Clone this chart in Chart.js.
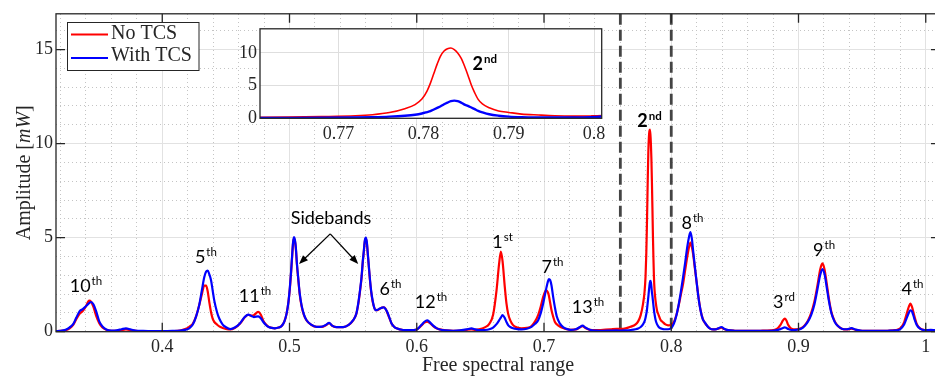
<!DOCTYPE html>
<html>
<head>
<meta charset="utf-8">
<script src="https://cdn.jsdelivr.net/npm/chart.js@4.4.1/dist/chart.umd.min.js"></script>
<style>
  html, body { margin: 0; padding: 0; background: #fff; overflow: hidden; width: 935px; height: 378px; }
  #wrap { position: relative; width: 935px; height: 378px; overflow: hidden; }
  #main { position: absolute; left: 0; top: 0; }
  #inset { position: absolute; left: 220px; top: 15px; }
</style>
</head>
<body>
<div id="wrap">
  <canvas id="main" width="945" height="378"></canvas>
  <canvas id="inset" width="400" height="130"></canvas>
</div>
<script>
// Spectrum sampled along the free spectral range (amplitude in mW)
const freq = [
  0.3165,0.320,0.324,0.327,0.330,0.3325,0.335,0.3375,0.340,0.3425,0.344,0.346,0.348,0.3505,0.353,0.356,0.360,
  0.364,0.368,0.3715,0.375,0.379,0.385,0.392,0.400,0.408,0.414,0.418,0.4212,0.424,0.4265,0.429,0.431,0.433,0.4345,0.4357,0.437,0.4383,0.4396,0.4409,0.443,0.4448,0.4475,0.450,0.4535,
  0.457,0.461,0.465,0.4676,0.470,0.472,0.4754,0.4775,0.4793,0.4815,0.4833,0.486,0.4885,0.4915,0.4938,0.496,0.4977,0.4992,0.5003,0.5013,0.5021,0.5028,0.5035,0.5042,0.505,0.5058,0.5068,0.508,0.5095,0.5113,0.5134,0.517,0.5213,
  0.5255,0.5285,0.5312,0.5335,0.537,0.5422,0.5465,0.55,0.5525,0.554,0.5555,0.5566,0.5576,0.5584,0.5592,0.56,0.5608,0.5616,0.5624,0.5632,0.5642,0.5653,0.5665,0.5676,0.569,0.571,0.5728,0.5742,0.5755,0.5768,0.5785,0.5802,0.582,0.5841,0.5893,
  0.595,0.6,0.602,0.604,0.606,0.6082,0.61,0.6129,0.6155,0.6181,0.623,0.6286,0.634,0.6391,0.643,0.646,0.649,0.6535,0.657,0.66,0.6627,0.6647,0.6661,0.6674,0.6692,0.6705,0.6718,0.6735,0.6757,0.679,0.6823,
  0.6865,0.6902,0.693,0.6954,0.6975,0.6993,0.701,0.702,0.703,0.7038,0.7048,0.7059,0.7072,0.7085,0.71,0.7124,0.715,0.7177,0.721,0.725,0.728,0.7303,0.7325,0.736,0.741,0.7464,0.752,0.757,
  0.7608,0.7641,0.768,0.772,0.774,0.776,0.7778,0.779,0.7798,0.7804,0.7808,0.7812,0.7816,0.782,0.7824,0.7828,0.7832,0.7836,0.784,0.7844,0.7848,0.7852,0.7856,0.786,0.7864,0.7869,0.7877,0.7888,0.79,0.7915,0.7935,0.7954,0.7975,0.7996,
  0.802,0.8041,0.806,0.8075,0.8093,0.811,0.8125,0.814,0.8151,0.8162,0.8172,0.8185,0.8198,0.8214,0.823,0.8247,0.8263,0.8283,0.8302,0.833,0.8355,0.8375,0.8394,0.8415,0.8446,
  0.85,0.86,0.87,0.878,0.883,0.886,0.8878,0.8892,0.8905,0.892,0.8945,0.898,0.902,0.905,0.9075,0.91,0.9125,0.915,0.917,0.9188,0.9205,0.9222,0.924,0.926,0.9285,0.931,0.934,0.938,0.9416,0.945,
  0.95,0.96,0.97,0.976,0.98,0.983,0.985,0.9868,0.9879,0.9892,0.991,0.993,0.9955,0.999,1.004,1.0112
];
const noTcs = [
  0.03,0.04,0.08,0.17,0.36,0.68,0.95,1.1,1.35,1.65,1.6,1.3,0.85,0.45,0.22,0.1,0.05,
  0.05,0.09,0.12,0.09,0.05,0.03,0.02,0.02,0.03,0.06,0.14,0.26,0.42,0.8,1.4,1.95,2.45,2.45,2.15,1.56,1.05,0.7,0.52,0.38,0.28,0.2,0.15,0.12,
  0.2,0.42,0.78,0.9,0.85,0.88,1.05,0.9,0.6,0.38,0.27,0.2,0.18,0.22,0.3,0.55,0.95,1.6,2.3,3.2,4.0,4.7,4.95,4.85,4.4,3.6,2.85,2.0,1.35,0.9,0.6,0.37,0.26,
  0.26,0.34,0.45,0.32,0.24,0.24,0.36,0.6,0.95,1.45,2.2,2.85,3.7,4.25,4.8,4.95,4.7,4.05,3.4,2.75,2.1,1.62,1.3,1.15,1.15,1.22,1.28,1.3,1.22,1.02,0.72,0.44,0.28,0.18,0.09,
  0.08,0.12,0.22,0.35,0.48,0.54,0.47,0.3,0.18,0.12,0.07,0.05,0.06,0.1,0.12,0.1,0.12,0.23,0.42,0.9,2.2,3.6,4.26,3.77,2.37,1.5,0.96,0.6,0.35,0.22,0.18,
  0.2,0.3,0.55,0.88,1.35,1.84,2.15,2.2,2.1,1.93,1.55,1.14,0.8,0.53,0.4,0.28,0.2,0.14,0.1,0.12,0.22,0.3,0.2,0.1,0.08,0.1,0.12,0.15,
  0.15,0.18,0.26,0.39,0.55,0.88,1.47,2.1,2.94,4.17,5.39,6.86,8.33,9.56,10.3,10.65,10.75,10.5,10.0,9.2,8.0,6.6,5.1,3.9,2.9,2.2,1.62,1.13,0.9,0.64,0.5,0.39,0.34,0.36,
  0.5,0.9,1.45,1.95,2.55,3.3,3.95,4.5,4.74,4.5,4.12,3.4,2.72,1.85,1.15,0.7,0.48,0.3,0.18,0.12,0.14,0.18,0.21,0.14,0.08,
  0.05,0.04,0.05,0.07,0.15,0.38,0.6,0.7,0.6,0.35,0.16,0.12,0.18,0.35,0.6,1.0,1.6,2.5,3.3,3.63,3.3,2.55,1.7,1.0,0.55,0.3,0.16,0.12,0.16,0.1,
  0.05,0.04,0.05,0.08,0.18,0.5,0.95,1.35,1.49,1.32,0.85,0.4,0.18,0.09,0.06,0.05
];
const withTcs = [
  0.03,0.04,0.1,0.22,0.4,0.75,1.08,1.2,1.35,1.52,1.58,1.45,1.1,0.55,0.28,0.12,0.06,
  0.07,0.13,0.18,0.12,0.06,0.04,0.03,0.03,0.04,0.06,0.1,0.18,0.38,0.79,1.4,2.15,2.9,3.2,3.25,3.05,2.75,2.2,1.65,1.05,0.7,0.38,0.24,0.14,
  0.22,0.44,0.79,0.91,0.84,0.78,0.82,0.72,0.53,0.36,0.26,0.2,0.18,0.22,0.3,0.55,0.96,1.6,2.37,3.25,4.1,4.75,5.03,4.9,4.47,3.65,2.9,2.05,1.4,0.92,0.61,0.38,0.26,
  0.27,0.36,0.47,0.32,0.24,0.24,0.36,0.61,0.95,1.5,2.25,2.9,3.75,4.3,4.85,5.0,4.75,4.1,3.45,2.8,2.15,1.67,1.3,1.14,1.16,1.23,1.28,1.3,1.2,1.05,0.75,0.44,0.28,0.18,0.09,
  0.08,0.12,0.24,0.38,0.53,0.61,0.52,0.32,0.19,0.12,0.07,0.05,0.07,0.12,0.18,0.12,0.08,0.09,0.13,0.22,0.4,0.6,0.75,0.88,0.72,0.52,0.35,0.25,0.18,0.14,0.12,
  0.16,0.26,0.42,0.61,1.0,1.49,2.05,2.37,2.65,2.8,2.75,2.46,1.85,1.32,0.82,0.44,0.24,0.15,0.1,0.13,0.24,0.32,0.22,0.1,0.06,0.05,0.06,0.07,
  0.06,0.07,0.09,0.13,0.17,0.25,0.39,0.55,0.74,0.95,1.1,1.35,1.6,1.85,2.15,2.4,2.62,2.7,2.62,2.4,2.1,1.9,1.65,1.4,1.15,0.92,0.62,0.4,0.26,0.18,0.14,0.13,0.13,0.17,
  0.42,0.88,1.5,2.1,2.9,3.7,4.47,5.05,5.3,4.95,4.3,3.5,2.72,1.8,1.14,0.68,0.5,0.3,0.18,0.12,0.13,0.2,0.25,0.16,0.08,
  0.05,0.04,0.05,0.05,0.08,0.15,0.2,0.23,0.2,0.14,0.09,0.1,0.16,0.32,0.55,0.9,1.45,2.3,3.0,3.33,3.05,2.35,1.6,0.95,0.52,0.3,0.16,0.13,0.19,0.11,
  0.05,0.04,0.05,0.07,0.14,0.38,0.72,1.02,1.14,1.08,0.7,0.35,0.16,0.08,0.1,0.05
];

// Mode order annotations and their anchors (x in FSR, y in mW)
const peakOrders = ['10','5','11','6','12','1','7','13','8','3','9','4'];
const peakSuffix = ['th','th','th','th','th','st','th','th','th','rd','th','th'];
const peakLabelAt = [[0.340,2.09],[0.4343,3.67],[0.4729,1.56],[0.5794,1.93],[0.6112,1.25],[0.6674,4.46],
                     [0.7067,3.14],[0.7346,0.98],[0.8167,5.46],[0.8886,1.25],[0.9201,4.04],[0.9896,1.93]];
const secondOrderAt = [0.7829, 10.88];
const secondOrderInsetAt = [0.78717, 7.4];
const sidebandTextAt = [0.5326, 5.7];
const sidebandArrowFrom = [0.532, 5.2];
const sidebandArrowTo = [[0.5075, 3.6], [0.554, 3.6]];
const zoomWindow = [0.76, 0.80];

const seriesNames = ['No TCS', 'With TCS'];
const seriesColors = ['#ff0000', '#0000ff'];

const serif = '"Liberation Serif", "Times New Roman", serif';
const sans = 'Lato, "Open Sans", sans-serif';
const ink = '#262626';

const pts = ys => freq.map((f, i) => ({ x: f, y: ys[i] }));
const isMultiple = (v, s) => Math.abs(v / s - Math.round(v / s)) < 1e-6;
const fmt = v => String(parseFloat(v.toFixed(2)));

function drawOrder(ctx, px, py, num, sup, bold) {
  const w = bold ? 'bold ' : '';
  ctx.save();
  ctx.fillStyle = '#000';
  ctx.textAlign = 'left';
  ctx.textBaseline = 'alphabetic';
  ctx.font = w + '18px ' + sans;
  const w1 = ctx.measureText(num).width;
  ctx.font = w + '11.5px ' + sans;
  const w2 = ctx.measureText(sup).width;
  const x0 = px - (w1 + w2 + 1) / 2;
  ctx.font = w + '18px ' + sans;
  ctx.fillText(num, x0, py);
  ctx.font = w + '11.5px ' + sans;
  ctx.fillText(sup, x0 + w1 + 1, py - 7);
  ctx.restore();
}

function arrow(ctx, x1, y1, x2, y2) {
  const ang = Math.atan2(y2 - y1, x2 - x1);
  const len = 9, half = 3.6;
  ctx.beginPath();
  ctx.moveTo(x1, y1);
  ctx.lineTo(x2 - Math.cos(ang) * len * 0.8, y2 - Math.sin(ang) * len * 0.8);
  ctx.stroke();
  ctx.beginPath();
  ctx.moveTo(x2, y2);
  ctx.lineTo(x2 - Math.cos(ang) * len + Math.sin(ang) * half, y2 - Math.sin(ang) * len - Math.cos(ang) * half);
  ctx.lineTo(x2 - Math.cos(ang) * len - Math.sin(ang) * half, y2 - Math.sin(ang) * len + Math.cos(ang) * half);
  ctx.closePath();
  ctx.fill();
}

function boxWithTicks(chart, tickLen) {
  const { ctx, chartArea: a, scales } = chart;
  ctx.save();
  ctx.strokeStyle = ink;
  ctx.lineWidth = 1.3;
  ctx.strokeRect(a.left, a.top, a.right - a.left, a.bottom - a.top);
  if (tickLen > 0) {
    ctx.beginPath();
    scales.x.ticks.forEach(t => {
      const p = scales.x.getPixelForValue(t.value);
      ctx.moveTo(p, a.bottom); ctx.lineTo(p, a.bottom - tickLen);
      ctx.moveTo(p, a.top); ctx.lineTo(p, a.top + tickLen);
    });
    scales.y.ticks.forEach(t => {
      const p = scales.y.getPixelForValue(t.value);
      ctx.moveTo(a.left, p); ctx.lineTo(a.left + tickLen, p);
      ctx.moveTo(a.right, p); ctx.lineTo(a.right - tickLen, p);
    });
    ctx.stroke();
  }
  ctx.restore();
}

const mainDecor = {
  id: 'mainDecor',
  beforeDatasetsDraw(chart) {
    const { ctx, chartArea: a, scales } = chart;
    ctx.save();
    ctx.strokeStyle = '#444';
    ctx.lineWidth = 2.8;
    ctx.setLineDash([11, 5]);
    zoomWindow.forEach(v => {
      const p = scales.x.getPixelForValue(v);
      ctx.beginPath(); ctx.moveTo(p, a.top); ctx.lineTo(p, a.bottom); ctx.stroke();
    });
    ctx.restore();
  },
  afterDatasetsDraw(chart) {
    boxWithTicks(chart, 9);
  },
  afterDraw(chart) {
    const { ctx, chartArea: a, scales } = chart;
    const X = v => scales.x.getPixelForValue(v);
    const Y = v => scales.y.getPixelForValue(v);

    // mode orders
    peakOrders.forEach((n, i) => drawOrder(ctx, X(peakLabelAt[i][0]), Y(peakLabelAt[i][1]), n, peakSuffix[i], false));
    drawOrder(ctx, X(secondOrderAt[0]), Y(secondOrderAt[1]), '2', 'nd', true);

    // sidebands callout
    ctx.save();
    ctx.fillStyle = '#000';
    ctx.strokeStyle = '#000';
    ctx.lineWidth = 1.3;
    ctx.font = '18px ' + sans;
    ctx.textAlign = 'center';
    ctx.textBaseline = 'alphabetic';
    ctx.fillText('Sidebands', X(sidebandTextAt[0]), Y(sidebandTextAt[1]));
    sidebandArrowTo.forEach(t => arrow(ctx, X(sidebandArrowFrom[0]), Y(sidebandArrowFrom[1]), X(t[0]), Y(t[1])));
    ctx.restore();

    // legend
    ctx.save();
    ctx.fillStyle = '#fff';
    ctx.fillRect(67.5, 22.5, 131.5, 48);
    ctx.strokeStyle = ink;
    ctx.lineWidth = 1;
    ctx.strokeRect(67.5, 22.5, 131.5, 48);
    ctx.font = '20px ' + serif;
    ctx.textAlign = 'left';
    ctx.textBaseline = 'middle';
    seriesNames.forEach((name, i) => {
      const y = 34.5 + i * 23.5;
      ctx.strokeStyle = chart.data.datasets[i].borderColor;
      ctx.lineWidth = 2.2;
      ctx.beginPath(); ctx.moveTo(71, y); ctx.lineTo(108, y); ctx.stroke();
      ctx.fillStyle = ink;
      ctx.fillText(name, 111, y - 0.5 - i * 1.5);
    });
    ctx.restore();

    // y axis title with italic unit
    ctx.save();
    ctx.translate(30, (a.top + a.bottom) / 2);
    ctx.rotate(-Math.PI / 2);
    ctx.fillStyle = ink;
    ctx.textBaseline = 'alphabetic';
    ctx.textAlign = 'left';
    const parts = [['Amplitude [', '20px ' + serif], ['mW', 'italic 20px ' + serif], [']', '20px ' + serif]];
    let total = 0;
    parts.forEach(p => { ctx.font = p[1]; total += ctx.measureText(p[0]).width; });
    let x = -total / 2;
    parts.forEach(p => { ctx.font = p[1]; ctx.fillText(p[0], x, 0); x += ctx.measureText(p[0]).width; });
    ctx.restore();
  }
};

new Chart(document.getElementById('main'), {
  type: 'line',
  data: {
    datasets: [
      { label: seriesNames[0], data: pts(noTcs), borderColor: seriesColors[0], borderWidth: 2.2,
        pointRadius: 0, cubicInterpolationMode: 'monotone', xAxisID: 'x', yAxisID: 'y', order: 1 },
      { label: seriesNames[1], data: pts(withTcs), borderColor: seriesColors[1], borderWidth: 2.2,
        pointRadius: 0, cubicInterpolationMode: 'monotone', xAxisID: 'x', yAxisID: 'y', order: 0 }
    ]
  },
  options: {
    responsive: false,
    animation: false,
    events: [],
    layout: { padding: { left: 16, top: 11, right: 5, bottom: 0 } },
    plugins: { legend: { display: false }, tooltip: { enabled: false } },
    scales: {
      x: {
        type: 'linear', position: 'bottom', min: 0.3165, max: 1.0112,
        ticks: { stepSize: 0.1, includeBounds: false, autoSkip: false, maxRotation: 0, padding: 5,
                 color: ink, font: { family: serif, size: 18 }, callback: v => fmt(v) },
        grid: { color: '#e2e2e2', lineWidth: 1, drawTicks: false },
        border: { display: false },
        title: { display: true, text: 'Free spectral range', color: ink,
                 font: { family: serif, size: 20 }, padding: { top: 0, bottom: 0 } },
        afterFit: s => { s.height = 46.3; }
      },
      xm: {
        type: 'linear', position: 'top', min: 0.3165, max: 1.0112,
        ticks: { display: false, stepSize: 0.02, includeBounds: false, autoSkip: false },
        grid: { drawTicks: false, lineWidth: 1,
                color: c => isMultiple(c.tick.value, 0.1) ? 'rgba(0,0,0,0)' : '#c4c4c4' },
        border: { display: false, dash: [1, 3] },
        afterFit: s => { s.height = 0; }
      },
      y: {
        type: 'linear', position: 'left', min: 0, max: 16.9,
        ticks: { stepSize: 5, includeBounds: false, padding: 3, color: ink,
                 font: { family: serif, size: 18 } },
        grid: { color: '#e2e2e2', lineWidth: 1, drawTicks: false },
        border: { display: false },
        afterFit: s => { s.width = 40; }
      },
      ym: {
        type: 'linear', position: 'right', min: 0, max: 16.9,
        ticks: { display: false, stepSize: 1, includeBounds: false },
        grid: { drawTicks: false, lineWidth: 1,
                color: c => isMultiple(c.tick.value, 5) ? 'rgba(0,0,0,0)' : '#c4c4c4' },
        border: { display: false, dash: [1, 3] },
        afterFit: s => { s.width = 0; }
      }
    }
  },
  plugins: [mainDecor]
});

const insetDecor = {
  id: 'insetDecor',
  beforeDraw(chart) {
    const { ctx, chartArea: a } = chart;
    ctx.save();
    ctx.fillStyle = '#fff';
    ctx.fillRect(a.left, a.top, a.right - a.left, a.bottom - a.top);
    ctx.restore();
  },
  afterDatasetsDraw(chart) {
    boxWithTicks(chart, 0);
  },
  afterDraw(chart) {
    const { scales } = chart;
    drawOrder(chart.ctx, scales.x.getPixelForValue(secondOrderInsetAt[0]),
              scales.y.getPixelForValue(secondOrderInsetAt[1]), '2', 'nd', true);
  }
};

new Chart(document.getElementById('inset'), {
  type: 'line',
  data: {
    datasets: [
      { label: seriesNames[0], data: pts(noTcs), borderColor: seriesColors[0], borderWidth: 1.6,
        pointRadius: 0, cubicInterpolationMode: 'monotone', order: 1 },
      { label: seriesNames[1], data: pts(withTcs), borderColor: seriesColors[1], borderWidth: 2.4,
        pointRadius: 0, cubicInterpolationMode: 'monotone', order: 0 }
    ]
  },
  options: {
    responsive: false,
    animation: false,
    events: [],
    layout: { padding: { left: 0, top: 10, right: 18.3, bottom: 0 } },
    plugins: { legend: { display: false }, tooltip: { enabled: false } },
    scales: {
      x: {
        type: 'linear', position: 'bottom', min: 0.7608, max: 0.8009,
        ticks: { stepSize: 0.01, includeBounds: false, autoSkip: false, maxRotation: 0, padding: 5,
                 color: ink, font: { family: serif, size: 18 }, callback: v => fmt(v) },
        grid: { color: '#dedede', lineWidth: 1, drawTicks: false },
        border: { display: false },
        afterFit: s => { s.height = 26.7; }
      },
      y: {
        type: 'linear', position: 'left', min: 0, max: 13.7,
        ticks: { stepSize: 5, includeBounds: false, padding: 3, color: ink,
                 font: { family: serif, size: 18 } },
        grid: { color: '#dedede', lineWidth: 1, drawTicks: false },
        border: { display: false },
        afterFit: s => { s.width = 40; }
      }
    }
  },
  plugins: [insetDecor]
});
</script>
</body>
</html>
